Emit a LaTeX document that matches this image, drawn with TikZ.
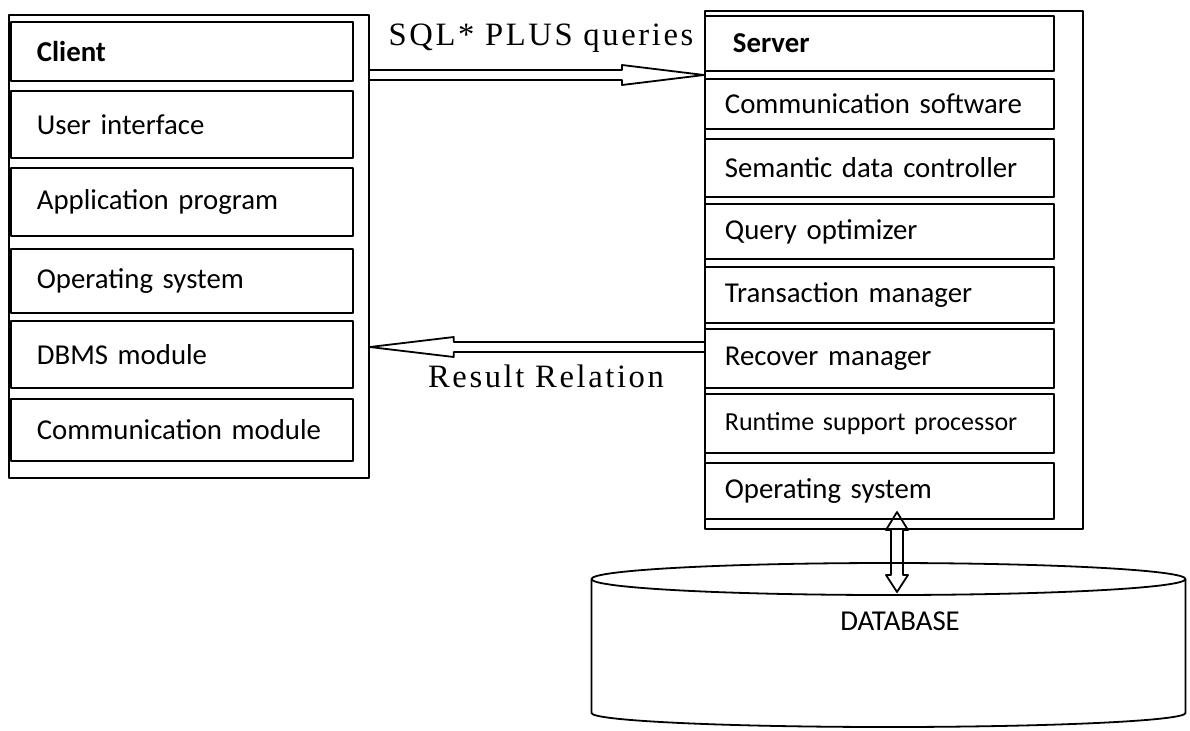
\documentclass[tikz,border=0pt]{standalone}
\usepackage{fontspec}
\setmainfont{Carlito}
\newfontfamily\labelfont[LetterSpace=8]{Liberation Serif}
\usetikzlibrary{calc}

\begin{document}
\begin{tikzpicture}[x=0.5pt, y=-0.5pt, line width=0.9pt, line join=round,
  frame/.style={draw, rectangle, anchor=north west, inner sep=0pt},
  layer/.style={draw, rectangle, anchor=north west, inner ysep=0pt,
                align=left, font=\fontsize{14.4}{16}\selectfont},
  clayer/.style={layer, inner xsep=13pt, text width=145pt},
  slayer/.style={layer, inner xsep=10pt, text width=154.5pt},
  arrowlabel/.style={anchor=base, inner sep=0pt, font=\labelfont\fontsize{16.3}{19}\selectfont},
  hollow/.style={draw, line width=0.9pt}
]
\useasboundingbox (0,0) rectangle (1190,730);

% ---- client stack ----
\node[frame, minimum width=180pt, minimum height=231.5pt] (clientbox) at (8,14) {};
\node[clayer, minimum height=29.5pt] (client) at (10,21)  {\textbf{Client}};
\node[clayer, minimum height=33.5pt] (ui)     at (10,90)  {User interface};
\node[clayer, minimum height=34pt]   (app)    at (10,167) {Application program};
\node[clayer, minimum height=32pt]   (cos)    at (10,248) {Operating system};
\node[clayer, minimum height=33.5pt] (dbms)   at (10,320) {DBMS module};
\node[clayer, minimum height=31pt]   (cmod)   at (10,398) {Communication module};

% ---- server stack ----
\node[frame, minimum width=189pt, minimum height=259pt] (serverbox) at (704,10) {};
\node[slayer, minimum height=27.5pt] (server) at (704,15)  {\hspace*{4pt}\textbf{Server}};
\node[slayer, minimum height=25pt]   (csoft)  at (704,78)  {Communication software};
\node[slayer, minimum height=29pt]   (sdc)    at (704,138) {Semantic data controller};
\node[slayer, minimum height=27.5pt] (qopt)   at (704,203) {Query optimizer};
\node[slayer, minimum height=28pt]   (tman)   at (704,266) {Transaction manager};
\node[slayer, minimum height=29.5pt] (rman)   at (704,328) {Recover manager};
\node[slayer, minimum height=29.5pt, font=\fontsize{13}{15}\selectfont] (rsp) at (704,393) {Runtime support processor};
\node[slayer, minimum height=28pt]   (sos)    at (704,462) {Operating system};

% ---- request / result arrows ----
\path (0,75) coordinate (yq) (0,347) coordinate (yr);
\coordinate (qs) at (clientbox.east |- yq);
\coordinate (qe) at (serverbox.west |- yq);
\draw[hollow] ($(qs)+(0,-5)$) -- ($(qe)+(-82,-5)$) -- ($(qe)+(-82,-10)$) -- (qe)
  -- ($(qe)+(-82,10)$) -- ($(qe)+(-82,5)$) -- ($(qs)+(0,5)$);
\node[arrowlabel] (sql) at (541,45) {SQL* PLUS queries};

\coordinate (rs) at (serverbox.west |- yr);
\coordinate (re) at (clientbox.east |- yr);
\draw[hollow] ($(rs)+(0,-5)$) -- ($(re)+(84,-5)$) -- ($(re)+(84,-10)$) -- (re)
  -- ($(re)+(84,10)$) -- ($(re)+(84,5)$) -- ($(rs)+(0,5)$);
\node[arrowlabel] (res) at (546,387) {Result Relation};

% ---- database cylinder ----
\coordinate (dbc) at (888.5,579);
\draw (dbc) ellipse [x radius=148.5pt, y radius=8pt];
\draw ($(dbc)+(-297,0)$) -- ($(dbc)+(-297,134)$)
  arc[start angle=180, end angle=360, x radius=148.5pt, y radius=7pt]
  -- ($(dbc)+(297,0)$);
\node[anchor=base, inner sep=0pt, font=\fontsize{14.4}{16}\selectfont] (db) at (900,630) {DATABASE};

% ---- two-way link between server and database ----
\coordinate (vt) at (897,512);
\coordinate (vb) at (897,592);
\draw[hollow] (vt) -- ($(vt)+(11,18)$) -- ($(vt)+(6,18)$) -- ($(vb)+(6,-17)$)
  -- ($(vb)+(11,-17)$) -- (vb) -- ($(vb)+(-11,-17)$) -- ($(vb)+(-6,-17)$)
  -- ($(vt)+(-6,18)$) -- ($(vt)+(-11,18)$) -- cycle;
\end{tikzpicture}
\end{document}
